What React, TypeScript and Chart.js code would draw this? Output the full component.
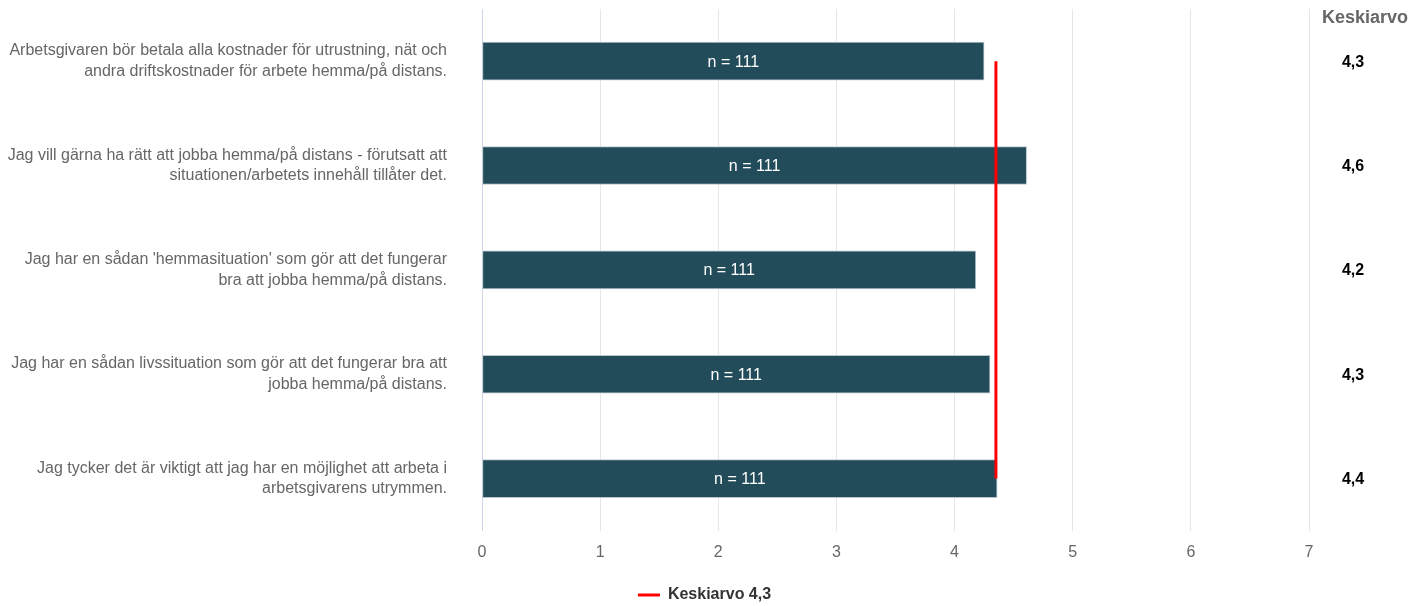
import React, { useEffect, useRef } from "react";
import { Chart, registerables } from "chart.js";

Chart.register(...registerables);

const categories: string[][] = [
  ["Arbetsgivaren bör betala alla kostnader för utrustning, nät och", "andra driftskostnader för arbete hemma/på distans."],
  ["Jag vill gärna ha rätt att jobba hemma/på distans - förutsatt att", "situationen/arbetets innehåll tillåter det."],
  ["Jag har en sådan 'hemmasituation' som gör att det fungerar", "bra att jobba hemma/på distans."],
  ["Jag har en sådan livssituation som gör att det fungerar bra att", "jobba hemma/på distans."],
  ["Jag tycker det är viktigt att jag har en möjlighet att arbeta i", "arbetsgivarens utrymmen."],
];
const means: number[] = [4.25, 4.61, 4.18, 4.3, 4.36];
const meanLabels: string[] = ["4,3", "4,6", "4,2", "4,3", "4,4"];
const nCounts: number[] = [111, 111, 111, 111, 111];
const overallMean = 4.35;
const overallLabel = "Keskiarvo 4,3";
const columnHeader = "Keskiarvo";
const xTicks: number[] = [0, 1, 2, 3, 4, 5, 6, 7];

const FONT = "'Liberation Sans', Arial, Helvetica, sans-serif";

const overlayPlugin = {
  id: "overlay",
  afterLayout(chart: any) {
    if (chart.legend) {
      chart.legend.left += 50;
      chart.legend.right += 50;
      chart.legend.top += 9;
      chart.legend.bottom += 9;
    }
  },
  afterDatasetsDraw(chart: any) {
    const ctx = chart.ctx;
    const meta = chart.getDatasetMeta(0);
    const yScale = chart.scales.y;
    ctx.save();
    ctx.font = `16px ${FONT}`;
    ctx.fillStyle = "#ffffff";
    ctx.textAlign = "center";
    ctx.textBaseline = "middle";
    meta.data.forEach((bar: any, i: number) => {
      const cx = (bar.base + bar.x) / 2;
      ctx.fillText(`n = ${nCounts[i]}`, cx, bar.y + 1);
    });
    // right column
    ctx.font = `bold 18px ${FONT}`;
    ctx.fillStyle = "#666666";
    ctx.fillText(columnHeader, 1365, 18);
    ctx.font = `bold 16px ${FONT}`;
    ctx.fillStyle = "#000000";
    meanLabels.forEach((lab, i) => {
      ctx.fillText(lab, 1353, yScale.getPixelForValue(i) + 1);
    });
    ctx.restore();
  },
};

export default function App() {
  const ref = useRef<HTMLCanvasElement>(null);
  useEffect(() => {
    if (!ref.current) return;
    const chart = new Chart(ref.current, {
      type: "bar",
      data: {
        labels: categories as any,
        datasets: [
          {
            type: "bar",
            label: "Keskiarvo",
            data: means,
            backgroundColor: "#234c5a",
            borderColor: "#b9c6ce",
            borderWidth: 1,
            borderSkipped: false,
            barThickness: 38,
            order: 2,
          } as any,
          {
            type: "line",
            label: overallLabel,
            data: categories.map(() => overallMean),
            borderColor: "#ff0000",
            backgroundColor: "#ff0000",
            borderWidth: 3,
            pointRadius: 0,
            indexAxis: "y",
            order: 1,
          } as any,
        ],
      },
      options: {
        indexAxis: "y",
        animation: false,
        responsive: true,
        maintainAspectRatio: false,
        layout: { padding: { top: 9, right: 116, bottom: 2, left: 0 } },
        scales: {
          x: {
            type: "linear",
            min: 0,
            max: 7,
            afterBuildTicks: (scale: any) => {
              scale.ticks = xTicks.map((v) => ({ value: v }));
            },
            afterFit: (scale: any) => {
              scale.paddingLeft = 0;
              scale.paddingRight = 0;
            },
            grid: {
              color: (c: any) => (c.tick && c.tick.value === 0 ? "#ccd6eb" : "#e6e6e6"),
              drawTicks: false,
              lineWidth: 1,
            },
            border: { display: false },
            ticks: {
              color: "#666666",
              font: { family: FONT, size: 16 },
              padding: 12,
            },
          },
          y: {
            type: "category",
            grid: { display: false, drawTicks: false },
            border: { display: false },
            afterFit: (scale: any) => {
              scale.width = 482;
              scale.paddingTop = 0;
              scale.paddingBottom = 0;
            },
            ticks: {
              color: "#666666",
              font: { family: FONT, size: 16, lineHeight: 1.3 },
              padding: 35,
              autoSkip: false,
            },
          },
        },
        plugins: {
          legend: {
            position: "bottom",
            labels: {
              filter: (item: any) => item.datasetIndex === 1,
              usePointStyle: true,
              pointStyle: "line",
              pointStyleWidth: 22,
              color: "#333333",
              font: { family: FONT, size: 16, weight: "bold" },
              padding: 4,
            },
          },
          tooltip: { enabled: false },
        },
      },
      plugins: [overlayPlugin],
    } as any);
    return () => chart.destroy();
  }, []);
  return (
    <div style={{ position: "fixed", left: 0, top: 0, width: 1425, height: 606, background: "#fff" }}>
      <canvas ref={ref} />
    </div>
  );
}
